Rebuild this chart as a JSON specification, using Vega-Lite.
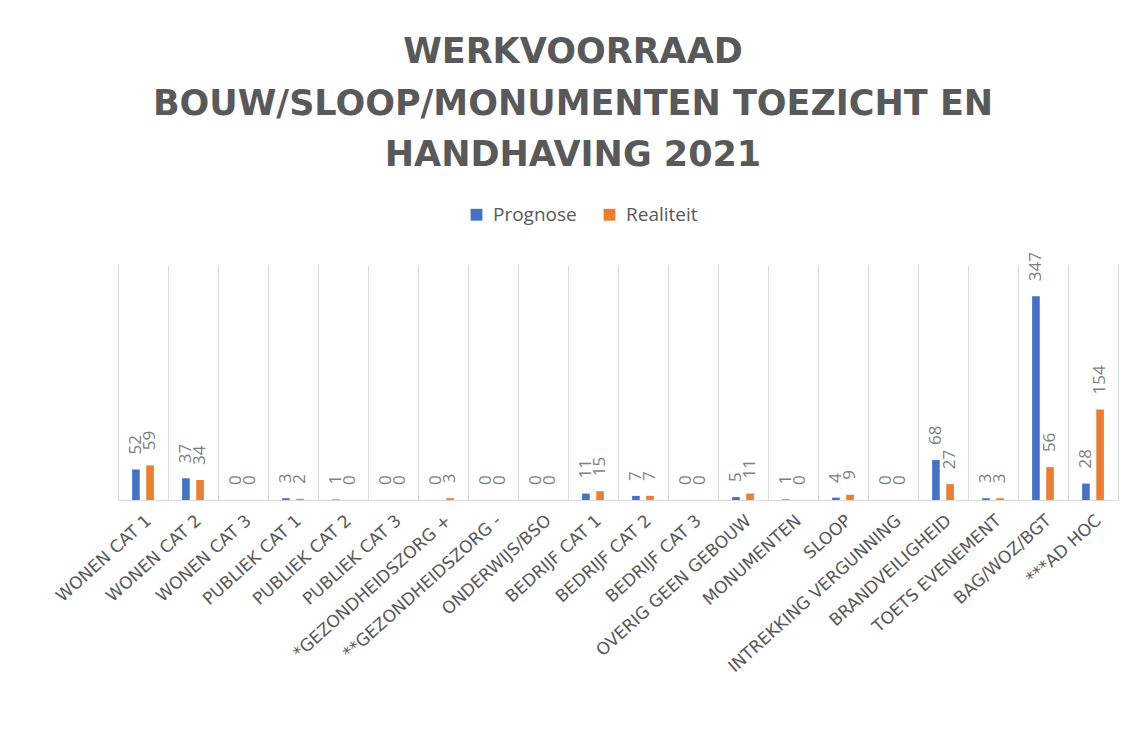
{
  "$schema": "https://vega.github.io/schema/vega-lite/v6.json",
  "width": 1000,
  "height": 235,
  "autosize": {"type": "none"},
  "padding": {"left": 118, "top": 265, "right": 28, "bottom": 246},
  "background": "white",
  "title": {
    "text": ["WERKVOORRAAD", "BOUW/SLOOP/MONUMENTEN TOEZICHT EN", "HANDHAVING 2021"],
    "font": "DejaVu Sans",
    "fontSize": 35,
    "fontWeight": "bold",
    "color": "#595959",
    "lineHeight": 51.5,
    "anchor": "middle",
    "frame": "group",
    "dx": -45,
    "offset": 32
  },
  "data": {
    "values": [
      {"cat": "WONEN CAT 1", "series": "Prognose", "value": 52},
      {"cat": "WONEN CAT 1", "series": "Realiteit", "value": 59},
      {"cat": "WONEN CAT 2", "series": "Prognose", "value": 37},
      {"cat": "WONEN CAT 2", "series": "Realiteit", "value": 34},
      {"cat": "WONEN CAT 3", "series": "Prognose", "value": 0},
      {"cat": "WONEN CAT 3", "series": "Realiteit", "value": 0},
      {"cat": "PUBLIEK CAT 1", "series": "Prognose", "value": 3},
      {"cat": "PUBLIEK CAT 1", "series": "Realiteit", "value": 2},
      {"cat": "PUBLIEK CAT 2", "series": "Prognose", "value": 1},
      {"cat": "PUBLIEK CAT 2", "series": "Realiteit", "value": 0},
      {"cat": "PUBLIEK CAT 3", "series": "Prognose", "value": 0},
      {"cat": "PUBLIEK CAT 3", "series": "Realiteit", "value": 0},
      {"cat": "*GEZONDHEIDSZORG +", "series": "Prognose", "value": 0},
      {"cat": "*GEZONDHEIDSZORG +", "series": "Realiteit", "value": 3},
      {"cat": "**GEZONDHEIDSZORG -", "series": "Prognose", "value": 0},
      {"cat": "**GEZONDHEIDSZORG -", "series": "Realiteit", "value": 0},
      {"cat": "ONDERWIJS/BSO", "series": "Prognose", "value": 0},
      {"cat": "ONDERWIJS/BSO", "series": "Realiteit", "value": 0},
      {"cat": "BEDRIJF CAT 1", "series": "Prognose", "value": 11},
      {"cat": "BEDRIJF CAT 1", "series": "Realiteit", "value": 15},
      {"cat": "BEDRIJF CAT 2", "series": "Prognose", "value": 7},
      {"cat": "BEDRIJF CAT 2", "series": "Realiteit", "value": 7},
      {"cat": "BEDRIJF CAT 3", "series": "Prognose", "value": 0},
      {"cat": "BEDRIJF CAT 3", "series": "Realiteit", "value": 0},
      {"cat": "OVERIG GEEN GEBOUW", "series": "Prognose", "value": 5},
      {"cat": "OVERIG GEEN GEBOUW", "series": "Realiteit", "value": 11},
      {"cat": "MONUMENTEN", "series": "Prognose", "value": 1},
      {"cat": "MONUMENTEN", "series": "Realiteit", "value": 0},
      {"cat": "SLOOP", "series": "Prognose", "value": 4},
      {"cat": "SLOOP", "series": "Realiteit", "value": 9},
      {"cat": "INTREKKING VERGUNNING", "series": "Prognose", "value": 0},
      {"cat": "INTREKKING VERGUNNING", "series": "Realiteit", "value": 0},
      {"cat": "BRANDVEILIGHEID", "series": "Prognose", "value": 68},
      {"cat": "BRANDVEILIGHEID", "series": "Realiteit", "value": 27},
      {"cat": "TOETS EVENEMENT", "series": "Prognose", "value": 3},
      {"cat": "TOETS EVENEMENT", "series": "Realiteit", "value": 3},
      {"cat": "BAG/WOZ/BGT", "series": "Prognose", "value": 347},
      {"cat": "BAG/WOZ/BGT", "series": "Realiteit", "value": 56},
      {"cat": "***AD HOC", "series": "Prognose", "value": 28},
      {"cat": "***AD HOC", "series": "Realiteit", "value": 154}
    ]
  },
  "encoding": {
    "x": {
      "field": "cat",
      "type": "nominal",
      "sort": null,
      "scale": {"paddingInner": 0, "paddingOuter": 0},
      "axis": {
        "title": null,
        "labelAngle": -42,
        "labelFont": "DejaVu Sans",
        "labelFontSize": 17,
        "labelColor": "#595959",
        "labelPadding": 12,
        "labelLimit": 400,
        "ticks": false,
        "domainColor": "#d9d9d9",
        "grid": true,
        "gridColor": "#d9d9d9",
        "tickBand": "extent"
      }
    },
    "xOffset": {
      "field": "series",
      "type": "nominal",
      "scale": {"paddingInner": 0.46, "paddingOuter": 1.15}
    },
    "y": {
      "field": "value",
      "type": "quantitative",
      "scale": {"domain": [0, 400]},
      "axis": null
    }
  },
  "layer": [
    {
      "mark": {"type": "bar"},
      "encoding": {
        "color": {
          "field": "series",
          "type": "nominal",
          "scale": {"domain": ["Prognose", "Realiteit"], "range": ["#4472C4", "#ED7D31"]},
          "legend": {
            "title": null,
            "orient": "none",
            "direction": "horizontal",
            "legendX": 349,
            "legendY": -60,
            "symbolType": "square",
            "symbolSize": 140,
            "symbolStrokeWidth": 0,
            "labelFont": "Open Sans",
            "labelFontSize": 19,
            "labelColor": "#595959",
            "labelOffset": 7,
            "columnPadding": 23
          }
        }
      }
    },
    {
      "mark": {
        "type": "text",
        "angle": 270,
        "align": "left",
        "baseline": "middle",
        "dx": 15,
        "font": "Open Sans",
        "fontSize": 17,
        "color": "#7f7f7f"
      },
      "encoding": {
        "text": {"field": "value", "type": "quantitative"}
      }
    }
  ],
  "config": {
    "view": {"stroke": null}
  }
}
